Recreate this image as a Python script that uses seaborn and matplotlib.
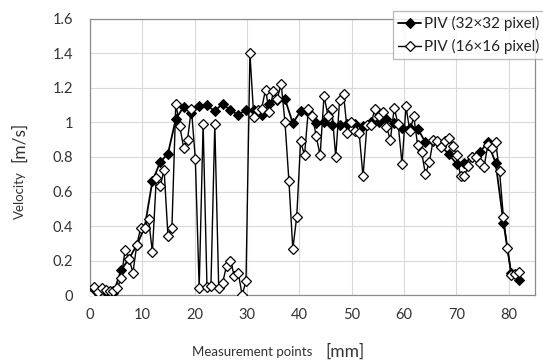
import matplotlib
matplotlib.use("Agg")
import matplotlib.pyplot as plt
import seaborn as sns
import pandas as pd

# ---- data ----
x_32 = [0, 1.49, 2.98, 4.47, 5.96, 7.45, 8.94, 10.43, 11.92, 13.41,
        14.9, 16.39, 17.88, 19.37, 20.86, 22.35, 23.84, 25.33, 26.82, 28.31,
        29.8, 31.29, 32.78, 34.27, 35.76, 37.25, 38.74, 40.23, 41.72, 43.21,
        44.7, 46.19, 47.68, 49.17, 50.66, 52.15, 53.64, 55.13, 56.62, 58.11,
        59.6, 61.09, 62.58, 64.07, 65.56, 67.05, 68.54, 70.03, 71.52, 73.01,
        74.5, 75.99, 77.48, 78.97, 80.46, 81.95]
v_32 = [0.025, 0.015, 0.02, 0.01, 0.145, 0.21, 0.29, 0.39, 0.66, 0.77,
        0.82, 1.02, 1.09, 1.055, 1.093, 1.10, 1.065, 1.11, 1.07, 1.045,
        1.073, 1.07, 1.045, 1.11, 1.13, 1.135, 0.996, 1.065, 1.06, 0.995,
        1.005, 0.986, 0.983, 0.99, 0.99, 0.98, 1.005, 1.005, 1.02, 0.996,
        0.97, 0.97, 0.965, 0.885, 0.89, 0.865, 0.815, 0.76, 0.765, 0.80,
        0.83, 0.885, 0.765, 0.42, 0.125, 0.088]

x_16 = [0, 0.75, 1.49, 2.24, 2.98, 3.73, 4.47, 5.22, 5.96, 6.71,
        7.45, 8.2, 8.94, 9.69, 10.43, 11.18, 11.92, 12.67, 13.41, 14.16,
        14.9, 15.65, 16.39, 17.14, 17.88, 18.63, 19.37, 20.12, 20.86, 21.61,
        22.35, 23.1, 23.84, 24.59, 25.33, 26.08, 26.82, 27.57, 28.31, 29.06,
        29.8, 30.55, 31.29, 32.04, 32.78, 33.53, 34.27, 35.02, 35.76, 36.51,
        37.25, 38.0, 38.74, 39.49, 40.23, 40.98, 41.72, 42.47, 43.21, 43.96,
        44.7, 45.45, 46.19, 46.94, 47.68, 48.43, 49.17, 49.92, 50.66, 51.41,
        52.15, 52.9, 53.64, 54.39, 55.13, 55.88, 56.62, 57.37, 58.11, 58.86,
        59.6, 60.35, 61.09, 61.84, 62.58, 63.33, 64.07, 64.82, 65.56, 66.31,
        67.05, 67.8, 68.54, 69.29, 70.03, 70.78, 71.52, 72.27, 73.01, 73.76,
        74.5, 75.25, 75.99, 76.74, 77.48, 78.23, 78.97, 79.72, 80.46, 81.21,
        81.95]
v_16 = [0.00, 0.045, 0.015, 0.04, 0.03, 0.025, 0.025, 0.04, 0.10, 0.26,
        0.21, 0.13, 0.29, 0.39, 0.39, 0.44, 0.25, 0.68, 0.63, 0.725,
        0.34, 0.39, 1.11, 0.98, 0.855, 0.90, 1.08, 0.79, 0.04, 0.99,
        0.045, 0.05, 0.99, 0.04, 0.07, 0.17, 0.20, 0.11, 0.13, 0.00,
        0.08, 1.40, 1.03, 1.07, 1.08, 1.19, 1.06, 1.18, 1.135, 1.225,
        1.00, 0.66, 0.265, 0.455, 0.89, 0.81, 1.08, 1.04, 0.92, 0.81,
        1.155, 1.04, 1.077, 0.80, 1.13, 1.165, 0.94, 1.00, 0.95, 0.94,
        0.687, 0.985, 0.985, 1.077, 1.04, 1.06, 0.975, 0.90, 1.083, 0.99,
        0.76, 1.093, 0.95, 1.035, 0.87, 0.83, 0.70, 0.77, 0.90, 0.89,
        0.86, 0.89, 0.91, 0.865, 0.81, 0.69, 0.69, 0.75, 0.80, 0.80,
        0.765, 0.74, 0.87, 0.85, 0.885, 0.716, 0.45, 0.27, 0.115, 0.12,
        0.135]

label_32 = "PIV (32×32 pixel)"
label_16 = "PIV (16×16 pixel)"
x_ticks = [0, 10, 20, 30, 40, 50, 60, 70, 80]
y_ticks = [0, 0.2, 0.4, 0.6, 0.8, 1.0, 1.2, 1.4, 1.6]
y_ticklabels = ["0", "0.2", "0.4", "0.6", "0.8", "1", "1.2", "1.4", "1.6"]

# ---- style ----
sns.set_style("white")
plt.rcParams['font.family'] = ['Lato', 'DejaVu Sans']

fig = plt.figure(figsize=(5.43, 3.61), dpi=100)
ax = fig.add_axes([0.1657, 0.1828, 0.8196, 0.7646])

df32 = pd.DataFrame({"x": x_32, "v": v_32})
df16 = pd.DataFrame({"x": x_16, "v": v_16})

sns.lineplot(data=df32, x="x", y="v", ax=ax, sort=False, color="black",
             linewidth=1.3, marker="D", markersize=5.5, markerfacecolor="black",
             markeredgecolor="black", label=label_32, zorder=3)
sns.lineplot(data=df16, x="x", y="v", ax=ax, sort=False, color="black",
             linewidth=1.0, marker="D", markersize=5, markerfacecolor="white",
             markeredgecolor="black", markeredgewidth=0.9, label=label_16, zorder=4)

ax.set_xlim(0, 85)
ax.set_ylim(0, 1.6)
ax.set_xticks(x_ticks)
ax.set_yticks(y_ticks)
ax.set_yticklabels(y_ticklabels)
ax.grid(True, color="#d9d9d9", linewidth=0.8)
ax.set_axisbelow(True)
for s in ax.spines.values():
    s.set_color("#8c8c8c")
    s.set_linewidth(0.9)
ax.tick_params(axis="both", length=0, labelsize=10.5, colors="#333333")
ax.tick_params(axis="y", pad=12)
ax.tick_params(axis="x", pad=9)
ax.set_xlabel("")
ax.set_ylabel("")

# axis titles (two sizes like the original)
fig.text(192 / 543, 1 - 352 / 361, "Measurement points", fontsize=9.5,
         ha="left", va="center", color="#333333")
fig.text(325 / 543, 1 - 352 / 361, "[mm]", fontsize=12.5,
         ha="left", va="center", color="#333333")
fig.text(20 / 543, 1 - 195 / 361, "Velocity", fontsize=9.5, rotation=90,
         ha="center", va="center", color="#333333")
fig.text(19 / 543, 1 - 142 / 361, "[m/s]", fontsize=12.5, rotation=90,
         ha="center", va="center", color="#333333")

handles, labels = ax.get_legend_handles_labels()
leg = ax.legend(handles, labels, loc="upper left",
                bbox_to_anchor=(393 / 543, 1 - 11 / 361),
                bbox_transform=fig.transFigure, frameon=True, fancybox=False,
                edgecolor="#a6a6a6", fontsize=11, handlelength=1.5,
                handletextpad=0.15, labelspacing=0.5, borderpad=0.35,
                borderaxespad=0)
leg.get_frame().set_linewidth(0.9)
for t in leg.get_texts():
    t.set_color("#222222")

fig.savefig("out.png", dpi=100)
